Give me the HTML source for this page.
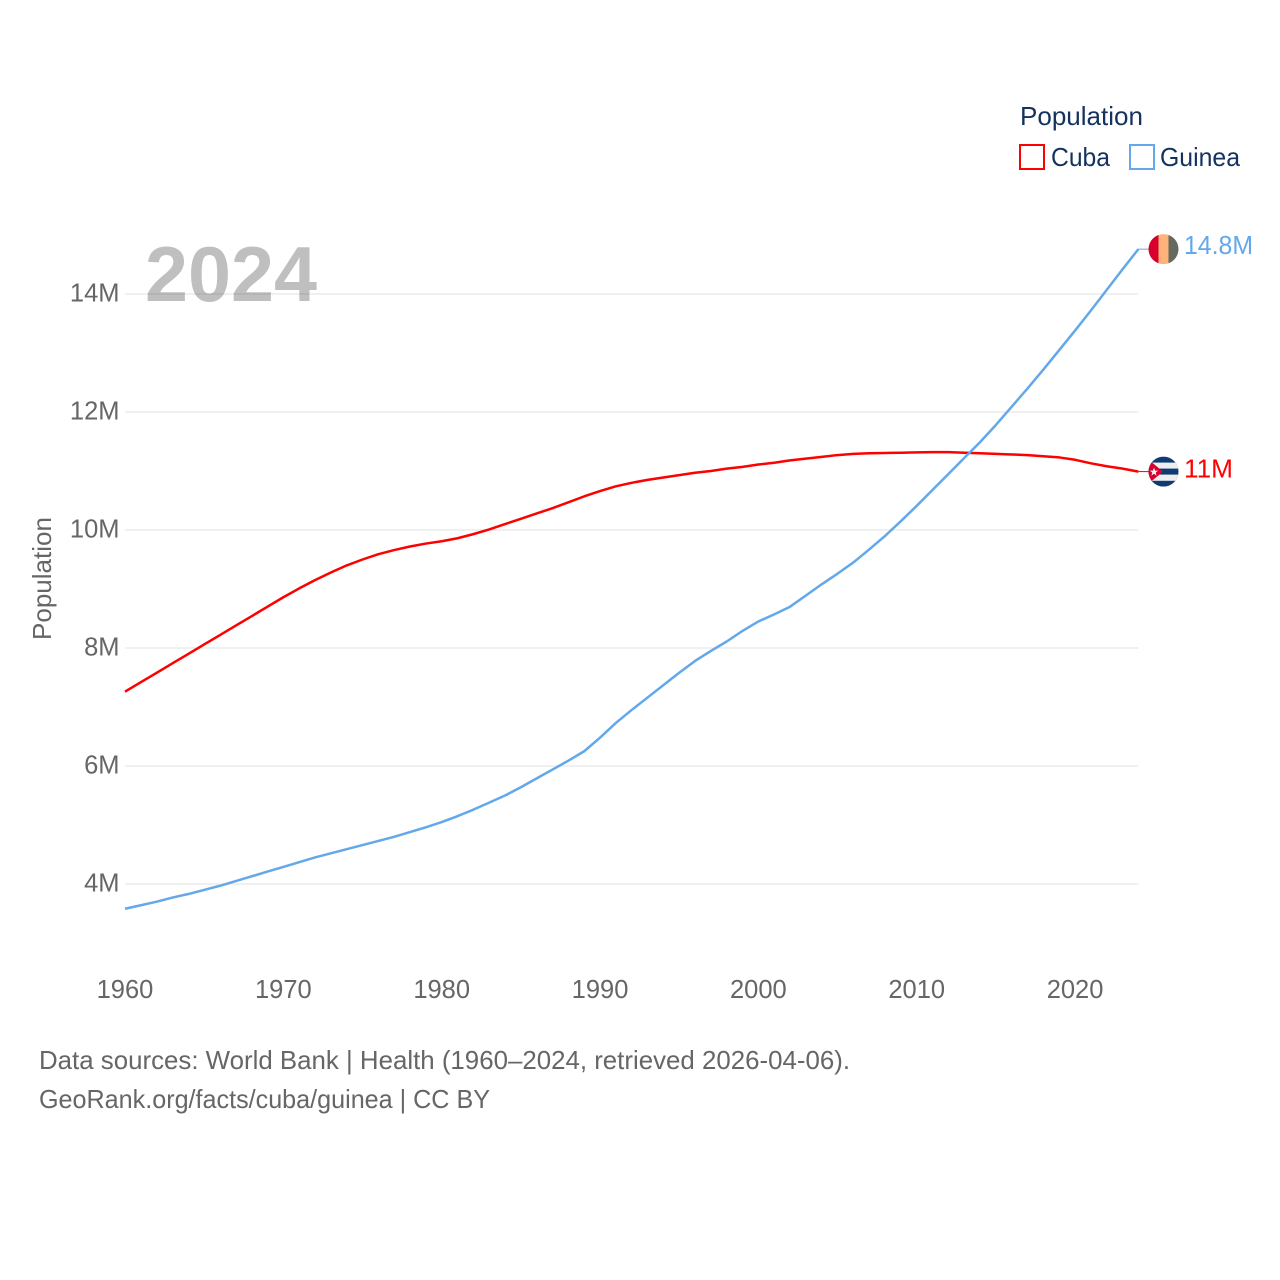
<!DOCTYPE html>
<html lang="en">
<head>
<meta charset="utf-8">
<title>Population: Cuba and Guinea, 1960–2024</title>
<style>
html,body{margin:0;padding:0;background:#fff;}
svg{display:block;}
text{font-family:"Liberation Sans",sans-serif;}
</style>
</head>
<body>
<svg id="chart" xmlns="http://www.w3.org/2000/svg" width="1280" height="1280" viewBox="0 0 1280 1280">
  <rect x="0" y="0" width="1280" height="1280" fill="#ffffff"/>
  <g id="grid"></g>
  <g id="yticks"></g>
  <g id="xticks"></g>
  <text transform="translate(51,640) rotate(-90)" font-size="26" fill="#666666" textLength="123" lengthAdjust="spacingAndGlyphs">Population</text>
  <text x="145" y="301" font-size="78" font-weight="700" fill="#000000" fill-opacity="0.25" textLength="172" lengthAdjust="spacingAndGlyphs">2024</text>
  <g id="series"></g>

  <g>
    <text x="1020" y="125" font-size="26" fill="#15325f" textLength="123" lengthAdjust="spacingAndGlyphs">Population</text>
    <g>
      <rect x="1020" y="145" width="24" height="24" fill="#ffffff" stroke="#ff0000" stroke-width="2"/>
      <text x="1051" y="166" font-size="26" fill="#15325f" textLength="59" lengthAdjust="spacingAndGlyphs">Cuba</text>
    </g>
    <g>
      <rect x="1130" y="145" width="24" height="24" fill="#ffffff" stroke="#62a8ea" stroke-width="2"/>
      <text x="1160" y="166" font-size="26" fill="#15325f" textLength="80" lengthAdjust="spacingAndGlyphs">Guinea</text>
    </g>
  </g>

  <defs>
    <clipPath id="flag-clip"><circle cx="0" cy="0" r="15"/></clipPath>
  </defs>
  <g id="flag-guinea" clip-path="url(#flag-clip)">
    <rect x="-15" y="-15" width="10" height="30" fill="#d7002c"/>
    <rect x="-5" y="-15" width="10" height="30" fill="#ffb27a"/>
    <rect x="5" y="-15" width="10" height="30" fill="#666960"/>
  </g>
  <g id="flag-cuba" clip-path="url(#flag-clip)">
    <rect x="-15" y="-15" width="30" height="30" fill="#0f3a72"/>
    <rect x="-15" y="-9" width="30" height="6" fill="#eeeeee"/>
    <rect x="-15" y="3" width="30" height="6.2" fill="#eeeeee"/>
    <polygon points="-15,-12 -0.5,0 -15,12" fill="#d7002c"/>
    <polygon points="-9.5,-4 -8.4,-1 -5.3,-1 -7.8,0.9 -6.9,4 -9.5,2.1 -12.1,4 -11.2,0.9 -13.7,-1 -10.6,-1" fill="#f4f4f4"/>
  </g>
  <text id="label-guinea" x="1184" font-size="26" fill="#62a8ea" textLength="69" lengthAdjust="spacingAndGlyphs"></text>
  <text id="label-cuba" x="1184" font-size="26" fill="#ff0000" textLength="49" lengthAdjust="spacingAndGlyphs"></text>

  <text x="39" y="1069" font-size="26" fill="#666666" textLength="811" lengthAdjust="spacingAndGlyphs">Data sources: World Bank | Health (1960–2024, retrieved 2026-04-06).</text>
  <text x="39" y="1108" font-size="26" fill="#666666" textLength="451" lengthAdjust="spacingAndGlyphs">GeoRank.org/facts/cuba/guinea | CC BY</text>
</svg>
<script>
const firstYear = 1960;
const xTickYears = [1960, 1970, 1980, 1990, 2000, 2010, 2020];
const yTickValues = [4, 6, 8, 10, 12, 14];
const cubaValues = [7.26,7.42,7.58,7.74,7.90,8.06,8.22,8.38,8.54,8.70,8.86,9.01,9.15,9.28,9.40,9.50,9.59,9.66,9.72,9.77,9.81,9.86,9.93,10.01,10.10,10.19,10.28,10.37,10.47,10.57,10.66,10.74,10.80,10.85,10.89,10.93,10.97,11.00,11.04,11.07,11.11,11.14,11.18,11.21,11.24,11.27,11.29,11.30,11.305,11.31,11.315,11.32,11.32,11.31,11.30,11.29,11.28,11.27,11.25,11.23,11.19,11.13,11.08,11.04,10.99];
const guineaValues = [3.58,3.64,3.70,3.77,3.83,3.90,3.97,4.05,4.13,4.21,4.29,4.37,4.45,4.52,4.59,4.66,4.73,4.80,4.88,4.96,5.05,5.15,5.26,5.38,5.50,5.64,5.79,5.94,6.09,6.25,6.48,6.73,6.95,7.16,7.37,7.58,7.78,7.95,8.11,8.29,8.45,8.57,8.70,8.89,9.08,9.26,9.45,9.67,9.90,10.15,10.41,10.68,10.95,11.22,11.49,11.78,12.09,12.40,12.72,13.05,13.38,13.72,14.07,14.42,14.76];

const NS = 'http://www.w3.org/2000/svg';
const xScale = function (year) { return 125 + (year - 1960) * (1138.4 - 125) / 64; };
const yScale = function (value) { return 884 - (value - 4) * 59; };
const fmt = function (value) { return String(Number(value.toFixed(1))) + 'M'; };

const grid = document.getElementById('grid');
const yticks = document.getElementById('yticks');
const xticks = document.getElementById('xticks');
const series = document.getElementById('series');

yTickValues.forEach(function (v) {
  const line = document.createElementNS(NS, 'line');
  
  
  line.setAttribute('x1', 125);
  line.setAttribute('x2', xScale(2024));
  line.setAttribute('y1', yScale(v));
  line.setAttribute('y2', yScale(v));
  line.setAttribute('stroke', '#f0f0f0');
  line.setAttribute('stroke-width', 2);
  grid.appendChild(line);

  const label = document.createElementNS(NS, 'text');
  
  
  label.setAttribute('x', 119.5);
  label.setAttribute('y', yScale(v) + 7.5);
  label.setAttribute('text-anchor', 'end');
  label.setAttribute('font-size', 25.5);
  label.setAttribute('fill', '#666666');
  label.textContent = v + 'M';
  yticks.appendChild(label);
});

xTickYears.forEach(function (year) {
  const label = document.createElementNS(NS, 'text');
  
  
  label.setAttribute('x', xScale(year));
  label.setAttribute('y', 998);
  label.setAttribute('text-anchor', 'middle');
  label.setAttribute('font-size', 25.5);
  label.setAttribute('fill', '#666666');
  label.textContent = year;
  xticks.appendChild(label);
});

function pathFor(values) {
  return values.map(function (v, i) {
    return (i ? 'L' : 'M') + xScale(firstYear + i).toFixed(2) + ' ' + yScale(v).toFixed(2);
  }).join(' ');
}

const cubaLine = document.createElementNS(NS, 'path');


cubaLine.setAttribute('d', pathFor(cubaValues));
cubaLine.setAttribute('fill', 'none');
cubaLine.setAttribute('stroke', '#ff0000');
cubaLine.setAttribute('stroke-width', 2.5);
cubaLine.setAttribute('stroke-linejoin', 'round');
series.appendChild(cubaLine);

const guineaLine = document.createElementNS(NS, 'path');


guineaLine.setAttribute('d', pathFor(guineaValues));
guineaLine.setAttribute('fill', 'none');
guineaLine.setAttribute('stroke', '#62a8ea');
guineaLine.setAttribute('stroke-width', 2.5);
guineaLine.setAttribute('stroke-linejoin', 'round');
series.appendChild(guineaLine);

const cubaEnd = yScale(cubaValues[cubaValues.length - 1]);
const guineaEnd = yScale(guineaValues[guineaValues.length - 1]);

const cubaConnector = document.createElementNS(NS, 'line');


cubaConnector.setAttribute('x1', xScale(2024));
cubaConnector.setAttribute('x2', 1149);
cubaConnector.setAttribute('y1', cubaEnd);
cubaConnector.setAttribute('y2', cubaEnd);
cubaConnector.setAttribute('stroke', '#ff0000');
cubaConnector.setAttribute('stroke-width', 1);
series.appendChild(cubaConnector);

const guineaConnector = document.createElementNS(NS, 'line');


guineaConnector.setAttribute('x1', xScale(2024));
guineaConnector.setAttribute('x2', 1149);
guineaConnector.setAttribute('y1', guineaEnd);
guineaConnector.setAttribute('y2', guineaEnd);
guineaConnector.setAttribute('stroke', '#62a8ea');
guineaConnector.setAttribute('stroke-width', 1);
series.appendChild(guineaConnector);

document.getElementById('flag-cuba').setAttribute('transform', 'translate(1163.5,' + cubaEnd + ')');
document.getElementById('flag-guinea').setAttribute('transform', 'translate(1163.5,' + guineaEnd + ')');

const labelCuba = document.getElementById('label-cuba');
labelCuba.setAttribute('y', cubaEnd + 6);
labelCuba.textContent = fmt(cubaValues[cubaValues.length - 1]);

const labelGuinea = document.getElementById('label-guinea');
labelGuinea.setAttribute('y', guineaEnd + 5);
labelGuinea.textContent = fmt(guineaValues[guineaValues.length - 1]);
</script>
</body>
</html>
